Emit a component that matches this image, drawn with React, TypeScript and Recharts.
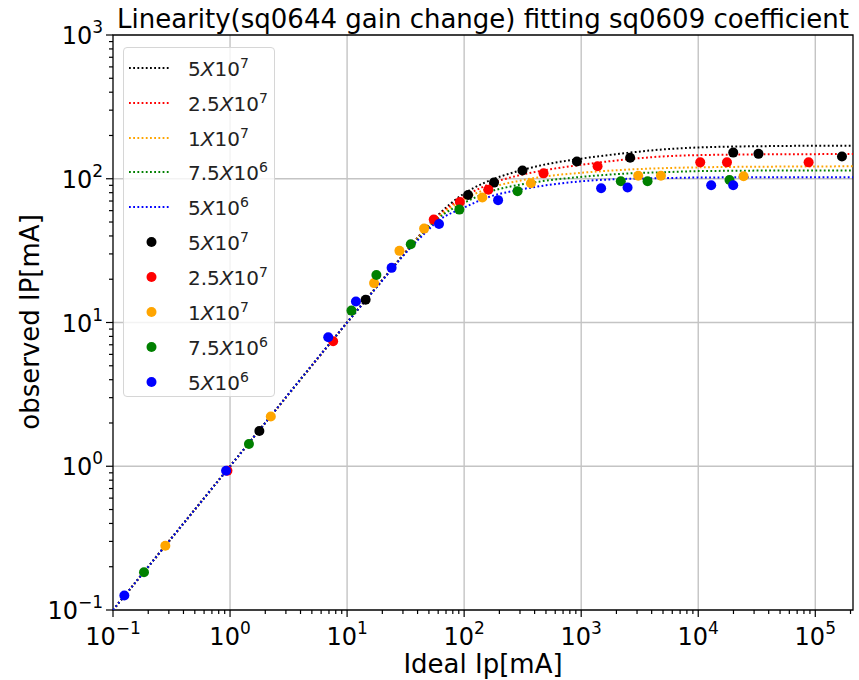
import {
  ComposedChart,
  Line,
  Scatter,
  XAxis,
  YAxis,
  CartesianGrid,
  ReferenceArea,
} from 'recharts'

const FONT = '"DejaVu Sans", sans-serif'

// fitted curves
const fitX = [0.1, 1, 10, 20, 30, 45, 60, 100, 150, 300, 500, 1000, 2600, 5000, 10000, 50000, 210000]
const fit5e7 = [0.1, 1, 10, 19.8, 29.5, 43.5, 56, 79, 94, 114, 126, 138, 152, 160, 165, 169, 170]
const fit25e6 = [0.1, 1, 10, 19.8, 29.4, 43, 55, 75, 89, 106, 115, 125, 137, 143, 146, 148, 148.5]
const fit1e7 = [0.1, 1, 10, 19.7, 29.3, 42.5, 54, 72, 84, 97, 104, 110, 116, 118.5, 120, 121.5, 122]
const fit75e5 = [0.1, 1, 10, 19.7, 29.2, 42, 53, 68, 79, 91, 97, 103, 109, 111, 113, 114, 114]
const fit5e6 = [0.1, 1, 10, 19.6, 29, 41, 51, 63, 73, 84, 90, 96, 100, 101, 102, 102.5, 102.5]

// measured points
const blackX = [1.78, 14.4, 108, 180, 315, 919, 2620, 19900, 32700, 169000]
const blackY = [1.76, 14.4, 77, 94, 114, 132, 140, 152, 149, 143]
const redX = [0.95, 7.6, 55, 92, 161, 477, 1380, 10400, 17600, 87700]
const redY = [0.93, 7.4, 52, 69, 84, 109, 122, 130, 130, 130]
const orangeX = [0.28, 2.23, 17, 28, 45.5, 143, 372, 3070, 4800, 24400]
const orangeY = [0.28, 2.22, 18.8, 31.5, 45, 74, 93, 105, 105, 104]
const greenX = [0.184, 1.45, 10.9, 17.8, 35, 91, 286, 2180, 3690, 18500]
const greenY = [0.183, 1.43, 12.1, 21.4, 35, 61, 82, 96, 96, 98]
const blueX = [0.125, 0.925, 6.9, 11.9, 24, 61, 195, 1480, 2490, 12900, 19900]
const blueY = [0.126, 0.93, 7.9, 14, 24, 48.5, 71, 86, 87, 90, 90]

const labels = [
  { base: '5', exp: '7' },
  { base: '2.5', exp: '7' },
  { base: '1', exp: '7' },
  { base: '7.5', exp: '6' },
  { base: '5', exp: '6' },
]
const colors = ['#000000', '#ff0000', '#ffa500', '#008000', '#0000ff']

const xMajor = [0.1, 1, 10, 100, 1000, 10000, 100000]
const yMajor = [0.1, 1, 10, 100, 1000]
const minorMul = [2, 3, 4, 5, 6, 7, 8, 9]
const xTicks = [...xMajor, ...xMajor.flatMap((m) => minorMul.map((k) => m * k)).filter((v) => v <= 210000)]
const yTicks = [...yMajor, ...yMajor.slice(0, -1).flatMap((m) => minorMul.map((k) => m * k))]

const zip = (xs: number[], ys: number[]) => xs.map((x, i) => ({ x, y: ys[i] }))
const fits = [fit5e7, fit25e6, fit1e7, fit75e5, fit5e6].map((ys) => zip(fitX, ys))
const points = [
  zip(blackX, blackY),
  zip(redX, redY),
  zip(orangeX, orangeY),
  zip(greenX, greenY),
  zip(blueX, blueY),
]

function expLabel(v: number) {
  const e = Math.round(Math.log10(v))
  const major = Math.abs(Math.log10(v) - e) < 1e-6
  return { e, major }
}

function XTick(props: any) {
  const { x, y, payload } = props
  const { e, major } = expLabel(payload.value)
  return (
    <g>
      <line x1={x} y1={y} x2={x} y2={y + (major ? 7 : 4)} stroke="#000" strokeWidth={1.2} />
      {major && (
        <text x={x} y={y + 35} textAnchor="middle" fontSize={24} fontFamily={FONT} fill="#000">
          10
          <tspan dy={-11} fontSize={17}>
            {e < 0 ? '\u2212' + -e : e}
          </tspan>
        </text>
      )}
    </g>
  )
}

function YTick(props: any) {
  const { x, y, payload } = props
  const { e, major } = expLabel(payload.value)
  return (
    <g>
      <line x1={x} y1={y} x2={x - (major ? 7 : 4)} y2={y} stroke="#000" strokeWidth={1.2} />
      {major && (
        <text x={x - 10} y={y + 9} textAnchor="end" fontSize={24} fontFamily={FONT} fill="#000">
          10
          <tspan dy={-11} fontSize={17}>
            {e < 0 ? '\u2212' + -e : e}
          </tspan>
        </text>
      )}
    </g>
  )
}

function LegendText({ base, exp }: { base: string; exp: string }) {
  return (
    <span>
      {base}
      <i>X</i>10
      <sup style={{ fontSize: 14, verticalAlign: 8 }}>{exp}</sup>
    </span>
  )
}

function Legend() {
  return (
    <div
      style={{
        position: 'absolute',
        left: 123,
        top: 47,
        width: 152,
        height: 350,
        boxSizing: 'border-box',
        background: 'rgba(255,255,255,0.8)',
        border: '1px solid #d6d6d6',
        borderRadius: 4,
        fontFamily: FONT,
        fontSize: 20,
        color: '#222',
      }}
    >
      {labels.map((l, i) => (
        <div key={'l' + i} style={{ position: 'absolute', left: 0, top: 19.7 + i * 34.9 - 14, height: 28, display: 'flex', alignItems: 'center' }}>
          <svg width={64} height={28}>
            <line x1={5} y1={14} x2={47} y2={14} stroke={colors[i]} strokeWidth={2} strokeDasharray="1.8 2.4" />
          </svg>
          <LegendText {...l} />
        </div>
      ))}
      {labels.map((l, i) => (
        <div key={'p' + i} style={{ position: 'absolute', left: 0, top: 19.7 + (i + 5) * 34.9 - 14, height: 28, display: 'flex', alignItems: 'center' }}>
          <svg width={64} height={28}>
            <circle cx={27.5} cy={14} r={5} fill={colors[i]} />
          </svg>
          <LegendText {...l} />
        </div>
      ))}
    </div>
  )
}

export default function App() {
  return (
    <div style={{ position: 'absolute', left: 0, top: 0, width: 859, height: 680, background: '#fff' }}>
      <ComposedChart width={859} height={680} margin={{ top: 35, right: 6, bottom: 0, left: 53 }}>
        <CartesianGrid
          stroke="#c4c4c4"
          strokeWidth={1.4}
          verticalValues={[1, 10, 100, 1000, 10000, 100000]}
          horizontalValues={[1, 10, 100]}
        />
        <XAxis
          type="number"
          dataKey="x"
          scale="log"
          domain={[0.1, 210000]}
          allowDataOverflow
          ticks={xTicks}
          interval={0}
          tick={<XTick />}
          tickSize={0}
          tickMargin={0}
          tickLine={false}
          axisLine={false}
          height={70}
        />
        <YAxis
          type="number"
          dataKey="y"
          scale="log"
          domain={[0.1, 1000]}
          allowDataOverflow
          ticks={yTicks}
          interval={0}
          tick={<YTick />}
          tickSize={0}
          tickMargin={0}
          tickLine={false}
          axisLine={false}
          width={60}
        />
        {fits.map((d, i) => (
          <Line
            key={'f' + i}
            data={d}
            dataKey="y"
            type="monotone"
            stroke={colors[i]}
            strokeWidth={2}
            strokeDasharray="1.8 2.4"
            dot={false}
            activeDot={false}
            isAnimationActive={false}
          />
        ))}
        {points.map((d, i) => (
          <Scatter
            key={'p' + i}
            data={d}
            dataKey="y"
            fill={colors[i]}
            isAnimationActive={false}
            shape={(p: any) => <circle cx={p.cx} cy={p.cy} r={5} fill={colors[i]} />}
          />
        ))}
        <ReferenceArea x1={0.1} x2={210000} y1={0.1} y2={1000} fill="none" fillOpacity={0} stroke="#000" strokeWidth={1.3} />
      </ComposedChart>
      <svg width={859} height={680} style={{ position: 'absolute', left: 0, top: 0, pointerEvents: 'none' }}>
        <text x={483} y={28} textAnchor="middle" fontSize={26} fontFamily={FONT} fill="#000">
          Linearity(sq0644 gain change) fitting sq0609 coefficient
        </text>
        <text x={483} y={673} textAnchor="middle" fontSize={26} fontFamily={FONT} fill="#000">
          Ideal Ip[mA]
        </text>
        <text
          x={30}
          y={322}
          textAnchor="middle"
          dominantBaseline="central"
          fontSize={26}
          fontFamily={FONT}
          fill="#000"
          transform="rotate(-90 30 322)"
        >
          observed IP[mA]
        </text>
      </svg>
      <Legend />
    </div>
  )
}
